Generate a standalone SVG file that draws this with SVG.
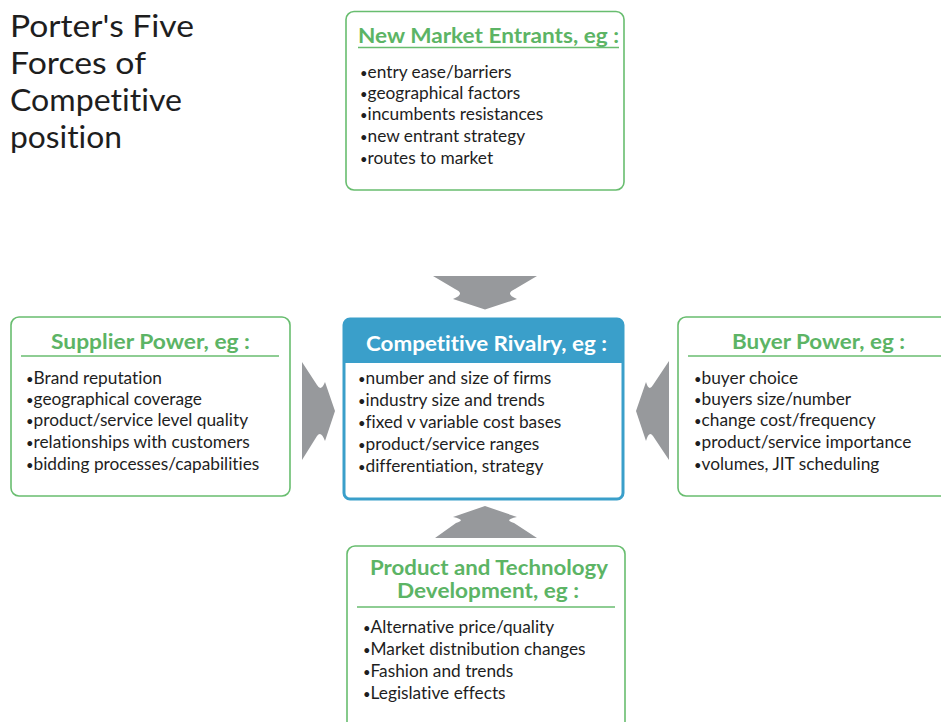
<svg xmlns="http://www.w3.org/2000/svg" width="941" height="722" viewBox="0 0 941 722">
<style>
text{font-variant-ligatures:none;font-feature-settings:"liga" 0,"clig" 0,"dlig" 0}
.title{font-family:Lato,"Open Sans","Liberation Sans",sans-serif;font-size:31px;fill:#1e1e1e}
.box{fill:#fff;stroke:#68bd6f;stroke-width:1.6}
.sep{stroke:#68bd6f;stroke-width:1.6}
.hd{font-family:Lato,"Open Sans","Liberation Sans",sans-serif;font-weight:bold;font-size:20px;fill:#5cb465}
.hdw{font-family:Lato,"Open Sans","Liberation Sans",sans-serif;font-weight:bold;font-size:20px;fill:#fff}
.it{font-family:Lato,"Open Sans","Liberation Sans",sans-serif;font-size:17.3px;fill:#1e1e1e}
.b{font-size:13px}
.arr{fill:#97999c}
</style>
<rect width="941" height="722" fill="#fff"/>
<g id="title">
<text class="title" x="10" y="37" textLength="184" lengthAdjust="spacingAndGlyphs">Porter's Five</text>
<text class="title" x="10" y="74" textLength="136" lengthAdjust="spacingAndGlyphs">Forces of</text>
<text class="title" x="10" y="111" textLength="172" lengthAdjust="spacingAndGlyphs">Competitive</text>
<text class="title" x="10" y="148" textLength="112" lengthAdjust="spacingAndGlyphs">position</text>
</g>
<g id="connectors">
<path class="arr" d="M433,276 H537 L515,289 Q504,294 517,299 L485,309.5 L453,299 Q466,294 455,289 Z"/>
<path class="arr" d="M435,538 H537 L514,523 Q503,520 517,517 L485,506 L453,517 Q467,520 456,523 Z"/>
<path class="arr" d="M302,362 L317,385 Q321,392 325,382 L335,411 L325,441 Q321,430 317,436 L302,460 Z"/>
<path class="arr" d="M669,361 L653,385 Q649,392 646,382 L636,411 L646,441 Q649,430 653,436 L669,460 Z"/>
</g>
<g id="new-entrants">
<rect class="box" x="346" y="11.5" width="278" height="178.5" rx="8"/>
<text class="hd" x="358" y="43" textLength="261" lengthAdjust="spacingAndGlyphs">New Market Entrants, eg :</text>
<line class="sep" x1="358" y1="47.5" x2="619" y2="47.5"/>
<text class="it" x="360" y="78"><tspan class="b">•</tspan>entry ease/barriers</text>
<text class="it" x="360" y="99"><tspan class="b">•</tspan>geographical factors</text>
<text class="it" x="360" y="120"><tspan class="b">•</tspan>incumbents resistances</text>
<text class="it" x="360" y="142"><tspan class="b">•</tspan>new entrant strategy</text>
<text class="it" x="360" y="164"><tspan class="b">•</tspan>routes to market</text>
</g>
<g id="supplier-power">
<rect class="box" x="11" y="317" width="279" height="179" rx="8"/>
<text class="hd" x="51" y="349" textLength="199" lengthAdjust="spacingAndGlyphs">Supplier Power, eg :</text>
<line class="sep" x1="21" y1="356" x2="279" y2="356"/>
<text class="it" x="26" y="384"><tspan class="b">•</tspan>Brand reputation</text>
<text class="it" x="26" y="405"><tspan class="b">•</tspan>geographical coverage</text>
<text class="it" x="26" y="426"><tspan class="b">•</tspan>product/service level quality</text>
<text class="it" x="26" y="448"><tspan class="b">•</tspan>relationships with customers</text>
<text class="it" x="26" y="470"><tspan class="b">•</tspan>bidding processes/capabilities</text>
</g>
<g id="competitive-rivalry">
<rect x="344" y="319" width="279" height="180" rx="6" fill="#fff" stroke="#3a9fca" stroke-width="3"/>
<path d="M344,363 V325 Q344,319 350,319 H617 Q623,319 623,325 V363 Z" fill="#3a9fca"/>
<text class="hdw" x="366" y="351" textLength="241" lengthAdjust="spacingAndGlyphs">Competitive Rivalry, eg :</text>
<text class="it" x="358" y="384"><tspan class="b">•</tspan>number and size of firms</text>
<text class="it" x="358" y="406"><tspan class="b">•</tspan>industry size and trends</text>
<text class="it" x="358" y="428"><tspan class="b">•</tspan>fixed v variable cost bases</text>
<text class="it" x="358" y="450"><tspan class="b">•</tspan>product/service ranges</text>
<text class="it" x="358" y="472"><tspan class="b">•</tspan>differentiation, strategy</text>
</g>
<g id="buyer-power">
<rect class="box" x="678" y="317" width="290" height="179" rx="8"/>
<text class="hd" x="732" y="349" textLength="173" lengthAdjust="spacingAndGlyphs">Buyer Power, eg :</text>
<line class="sep" x1="688" y1="356" x2="941" y2="356"/>
<text class="it" x="694" y="384"><tspan class="b">•</tspan>buyer choice</text>
<text class="it" x="694" y="405"><tspan class="b">•</tspan>buyers size/number</text>
<text class="it" x="694" y="426"><tspan class="b">•</tspan>change cost/frequency</text>
<text class="it" x="694" y="448"><tspan class="b">•</tspan>product/service importance</text>
<text class="it" x="694" y="470"><tspan class="b">•</tspan>volumes, JIT scheduling</text>
</g>
<g id="product-technology">
<rect class="box" x="347" y="546" width="278" height="200" rx="8"/>
<text class="hd" x="370" y="575" textLength="238" lengthAdjust="spacingAndGlyphs">Product and Technology</text>
<text class="hd" x="397" y="598" textLength="182" lengthAdjust="spacingAndGlyphs">Development, eg :</text>
<line class="sep" x1="357" y1="607" x2="615" y2="607"/>
<text class="it" x="363" y="633"><tspan class="b">•</tspan>Alternative price/quality</text>
<text class="it" x="363" y="655"><tspan class="b">•</tspan>Market distnibution changes</text>
<text class="it" x="363" y="677"><tspan class="b">•</tspan>Fashion and trends</text>
<text class="it" x="363" y="699"><tspan class="b">•</tspan>Legislative effects</text>
</g>
</svg>
